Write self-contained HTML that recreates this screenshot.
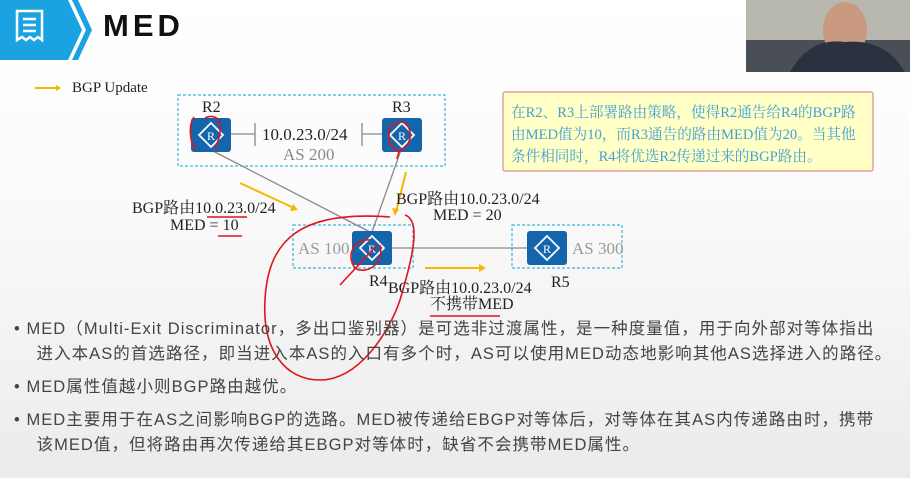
<!DOCTYPE html>
<html><head><meta charset="utf-8"><style>
body{margin:0;width:910px;height:478px;overflow:hidden;position:relative;background:linear-gradient(#ffffff 0%,#fbfbfb 40%,#ebebeb 100%);font-family:"Liberation Sans","Noto Sans CJK SC",sans-serif}
.a{position:absolute;white-space:nowrap}
.s{font-family:"Liberation Serif","Noto Serif CJK SC",serif;font-size:16px;color:#222;line-height:18px}
.b{font-size:16.5px;color:#444;letter-spacing:1.05px}
</style></head><body>
<svg class="a" style="left:0;top:0" width="910" height="478">
<defs><g id="r"><rect x="0" y="0" width="40" height="34" rx="3" fill="#1565ad"/><polygon points="20,5 32,17 20,29 8,17" fill="none" stroke="#fff" stroke-width="1.8"/><text x="20" y="22" font-size="12" fill="#fff" text-anchor="middle" font-family="Liberation Serif">R</text></g></defs>
<polygon points="0,0 68,0 82,30 68,60 0,60" fill="#1aa3e0"/>
<polygon points="72,0 78,0 92,30 78,60 72,60 86,30" fill="#1aa3e0"/>
<g fill="none" stroke="#fff" stroke-width="2.5"><path d="M17,11 h25 v29 l-4,-3 l-4,3 l-4,-3 l-4,3 l-4,-3 l-5,3 z"/><path d="M23,19h13M23,25h13M23,31h13"/></g>
<rect x="746" y="0" width="164" height="72" fill="#4a4e55"/>
<rect x="746" y="0" width="164" height="40" fill="#b8b8b0"/>
<ellipse cx="845" cy="30" rx="22" ry="28" fill="#c99a80"/>
<path d="M790,72 q20,-35 55,-30 q40,-4 60,30z" fill="#2c3140"/>
<line x1="35" y1="88" x2="58" y2="88" stroke="#f5b800" stroke-width="2"/><polygon points="56,85 61,88 56,91" fill="#f5b800"/>
<g fill="none" stroke="#3cb4dc" stroke-dasharray="3,2" stroke-width="1.2">
<rect x="178" y="95" width="267" height="71"/><rect x="293" y="225" width="120" height="43"/><rect x="512" y="225" width="110" height="43"/></g>
<g stroke="#888" stroke-width="1.3">
<line x1="231" y1="134" x2="255" y2="134"/><line x1="255" y1="123" x2="255" y2="146"/>
<line x1="362" y1="134" x2="382" y2="134"/><line x1="362" y1="123" x2="362" y2="146"/>
<line x1="211" y1="150" x2="370" y2="232"/><line x1="401" y1="150" x2="372" y2="232"/>
<line x1="392" y1="248" x2="527" y2="248"/></g>
<use href="#r" x="191" y="118"/><use href="#r" x="382" y="118"/><use href="#r" x="352" y="231"/><use href="#r" x="527" y="231"/>
<g stroke="#f5b800" stroke-width="2"><line x1="240" y1="183" x2="294" y2="208"/><line x1="406" y1="172" x2="396" y2="212"/><line x1="425" y1="268" x2="482" y2="268"/></g>
<g fill="#f5b800"><polygon points="298,210 290,211 293,204"/><polygon points="395,216 392,208 399,209"/><polygon points="486,268 479,264 479,272"/></g>
<rect x="503" y="92" width="370" height="79" rx="2" fill="#ffffc6" stroke="#e08a8a" stroke-width="1.2"/>
<g fill="none" stroke="#e0141c" stroke-width="1.6">
<path d="M390,217 C300,210 268,240 265,300 C262,350 285,380 320,380 C360,380 390,330 400,300 C415,250 420,220 405,215"/>
<path d="M370,240 C355,238 345,255 355,268 C365,275 385,265 380,245 M377,245 L340,285"/>
<path d="M194,117 C188,125 190,145 196,150 M205,118 q8,-4 14,2 q4,15 -5,29 M390,126 q15,-10 20,5 q2,15 -12,20 q-12,-5 -8,-25 M399,151 l-2,8"/>
<path d="M207,217 h40 M218,236 h24 M430,316 h70"/>
</g>
</svg>
<div class="a" style="left:103px;top:8px;font-size:31px;font-weight:bold;letter-spacing:4px;color:#111">MED</div>
<div class="a s" style="left:72px;top:79px;font-size:15px">BGP Update</div>
<div class="a s" style="left:202px;top:99px">R2</div>
<div class="a s" style="left:392px;top:99px">R3</div>
<div class="a s" style="left:262px;top:126px;font-size:17px">10.0.23.0/24</div>
<div class="a s" style="left:283px;top:146px;color:#888;font-size:17px">AS 200</div>
<div class="a s" style="left:298px;top:240px;color:#999;font-size:17px">AS 100</div>
<div class="a s" style="left:572px;top:240px;color:#999;font-size:17px">AS 300</div>
<div class="a s" style="left:369px;top:273px">R4</div>
<div class="a s" style="left:551px;top:274px">R5</div>
<div class="a s" style="left:132px;top:200px">BGP路由10.0.23.0/24</div>
<div class="a s" style="left:170px;top:217px">MED = 10</div>
<div class="a s" style="left:396px;top:191px">BGP路由10.0.23.0/24</div>
<div class="a s" style="left:433px;top:207px">MED = 20</div>
<div class="a s" style="left:388px;top:280px">BGP路由10.0.23.0/24</div>
<div class="a s" style="left:430px;top:296px">不携带MED</div>
<div class="a s" style="left:511px;top:102px;color:#45a0d6;line-height:22px;font-size:14.6px">在R2、R3上部署路由策略，使得R2通告给R4的BGP路<br>由MED值为10，而R3通告的路由MED值为20。当其他<br>条件相同时，R4将优选R2传递过来的BGP路由。</div>
<div class="a b" style="left:14px;top:317px;line-height:25px">•&nbsp;MED（Multi-Exit Discriminator，多出口鉴别器）是可选非过渡属性，是一种度量值，用于向外部对等体指出<br>&nbsp;&nbsp;&nbsp;&nbsp;进入本AS的首选路径，即当进入本AS的入口有多个时，AS可以使用MED动态地影响其他AS选择进入的路径。</div>
<div class="a b" style="left:14px;top:373px">•&nbsp;MED属性值越小则BGP路由越优。</div>
<div class="a b" style="left:14px;top:408px;line-height:25px">•&nbsp;MED主要用于在AS之间影响BGP的选路。MED被传递给EBGP对等体后，对等体在其AS内传递路由时，携带<br>&nbsp;&nbsp;&nbsp;&nbsp;该MED值，但将路由再次传递给其EBGP对等体时，缺省不会携带MED属性。</div>
</body></html>
